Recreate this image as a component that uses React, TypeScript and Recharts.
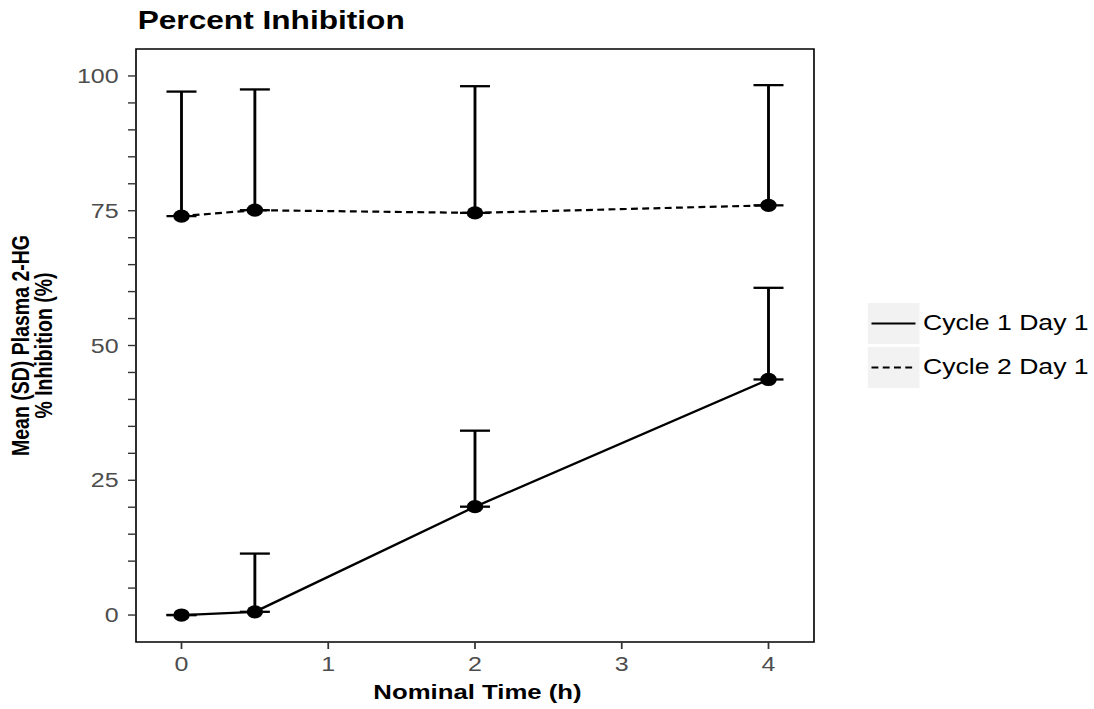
import React from "react";
import {
  LineChart,
  Line,
  XAxis,
  YAxis,
  ErrorBar,
  Legend,
  ReferenceArea,
} from "recharts";

// Nominal sampling times (h)
const timesH = [0, 0.5, 2, 4];

// Mean and SD of plasma 2-HG % inhibition per cycle
const cycle1Mean = [0, 0.6, 20.1, 43.7];
const cycle1Sd = [0, 10.8, 14.1, 17.0];
const cycle2Mean = [74.0, 75.1, 74.6, 76.0];
const cycle2Sd = [23.1, 22.4, 23.5, 22.3];

const seriesNames = ["Cycle 1 Day 1", "Cycle 2 Day 1"];

const xTicks = [0, 1, 2, 3, 4];
const yTicks = [0, 5, 10, 15, 20, 25, 30, 35, 40, 45, 50, 55, 60, 65, 70, 75, 80, 85, 90, 95, 100];
const yLabelled = [0, 25, 50, 75, 100];
const xDomain = [-0.31, 4.31];
const yDomain = [-5, 105];

const FONT = '"Liberation Sans", Arial, Helvetica, sans-serif';

// the whole figure is drawn narrow and stretched horizontally
const SX = 1.25;
const WIDTH = 1094 / SX;
const HEIGHT = 709;
const PLOT_LEFT = 136 / SX;
const PLOT_RIGHT = 814 / SX;
const PLOT_TOP = 49;
const X_AXIS_H = 67;

const data = timesH.map((t, i) => ({
  time: t,
  c1: cycle1Mean[i],
  c1Err: [0, cycle1Sd[i]],
  c2: cycle2Mean[i],
  c2Err: [0, cycle2Sd[i]],
}));

function YTitle({ viewBox }: any) {
  const cy = viewBox.y + viewBox.height / 2;
  const line1X = viewBox.x + 23;
  const line2X = viewBox.x + 41.5;
  return (
    <g fontFamily={FONT} fontWeight="bold" fontSize={19.5} fill="#000">
      <text x={line1X} y={cy} textAnchor="middle" transform={`rotate(-90, ${line1X}, ${cy})`}>
        Mean (SD) Plasma 2-HG
      </text>
      <text x={line2X} y={cy} textAnchor="middle" transform={`rotate(-90, ${line2X}, ${cy})`}>
        % Inhibition (%)
      </text>
    </g>
  );
}

function XTitle({ viewBox }: any) {
  return (
    <text
      x={viewBox.x + viewBox.width / 2 + 2}
      y={viewBox.y + 57}
      textAnchor="middle"
      fontFamily={FONT}
      fontWeight="bold"
      fontSize={20.6}
      fill="#000"
    >
      Nominal Time (h)
    </text>
  );
}

function KeyLegend({ payload }: any) {
  return (
    <div style={{ display: "flex", flexDirection: "column", gap: 3 }}>
      {(payload ?? []).map((entry: any) => (
        <div key={entry.value} style={{ display: "flex", alignItems: "center", height: 41 }}>
          <svg width={41.6} height={41} style={{ display: "block" }}>
            <rect width={41.6} height={41} fill="#f2f2f2" />
            <line
              x1={3.2}
              x2={38.4}
              y1={20.5}
              y2={20.5}
              stroke="#000"
              strokeWidth={2.2}
              strokeDasharray={entry.payload?.strokeDasharray}
            />
          </svg>
          <span style={{ marginLeft: 2.4, fontSize: 21.3, fontFamily: FONT, color: "#000", whiteSpace: "nowrap" }}>
            {entry.value}
          </span>
        </div>
      ))}
    </div>
  );
}

export default function App() {
  return (
    <div style={{ width: WIDTH, height: HEIGHT, position: "relative", transform: `scaleX(${SX})`, transformOrigin: "0 0", background: "#fff" }}>
      <style>{"body{margin:0;background:#fff}"}</style>
      <div
        style={{
          position: "absolute",
          left: 137.7 / SX,
          top: 29 - 0.8465 * 25.3,
          fontFamily: FONT,
          fontWeight: "bold",
          fontSize: 25.3,
          lineHeight: "25.3px",
          color: "#000",
          whiteSpace: "nowrap",
          zIndex: 1,
        }}
      >
        Percent Inhibition
      </div>
      <LineChart
        width={WIDTH}
        height={HEIGHT}
        data={data}
        margin={{ top: PLOT_TOP, right: WIDTH - PLOT_RIGHT, bottom: 0, left: 0 }}
      >
        <ReferenceArea
          x1={xDomain[0]}
          x2={xDomain[1]}
          y1={yDomain[0]}
          y2={yDomain[1]}
          fill="none"
          stroke="#000"
          strokeWidth={1.3}
        />
        <XAxis
          dataKey="time"
          type="number"
          domain={xDomain}
          ticks={xTicks}
          interval={0}
          height={X_AXIS_H}
          axisLine={false}
          tickLine={{ stroke: "#333", strokeWidth: 1.4 }}
          tickSize={7}
          tickMargin={8}
          tick={{ fill: "#4d4d4d", fontSize: 20, fontFamily: FONT }}
          label={{ content: XTitle }}
        />
        <YAxis
          type="number"
          domain={yDomain}
          ticks={yTicks}
          interval={0}
          width={PLOT_LEFT}
          axisLine={false}
          tickLine={{ stroke: "#333", strokeWidth: 1.4 }}
          tickSize={6.4}
          tickMargin={7.5}
          tick={{ fill: "#4d4d4d", fontSize: 20, fontFamily: FONT }}
          tickFormatter={(v: number) => (yLabelled.includes(v) ? String(v) : "")}
          label={{ content: YTitle }}
        />
        <Legend
          layout="vertical"
          align="center"
          verticalAlign="middle"
          content={KeyLegend}
          wrapperStyle={{ left: 868 / SX, top: 303 }}
        />
        <Line
          type="linear"
          dataKey="c1"
          name={seriesNames[0]}
          stroke="#000"
          strokeWidth={2.2}
          dot={{ r: 6.6, fill: "#000", stroke: "#000", strokeWidth: 0 }}
          isAnimationActive={false}
        >
          <ErrorBar dataKey="c1Err" width={12} stroke="#000" strokeWidth={2.3} direction="y" isAnimationActive={false} />
        </Line>
        <Line
          type="linear"
          dataKey="c2"
          name={seriesNames[1]}
          stroke="#000"
          strokeWidth={2.2}
          strokeDasharray="5.5 3.5"
          dot={{ r: 6.6, fill: "#000", stroke: "#000", strokeWidth: 0, strokeDasharray: "" }}
          isAnimationActive={false}
        >
          <ErrorBar dataKey="c2Err" width={12} stroke="#000" strokeWidth={2.3} direction="y" isAnimationActive={false} />
        </Line>
      </LineChart>
    </div>
  );
}
